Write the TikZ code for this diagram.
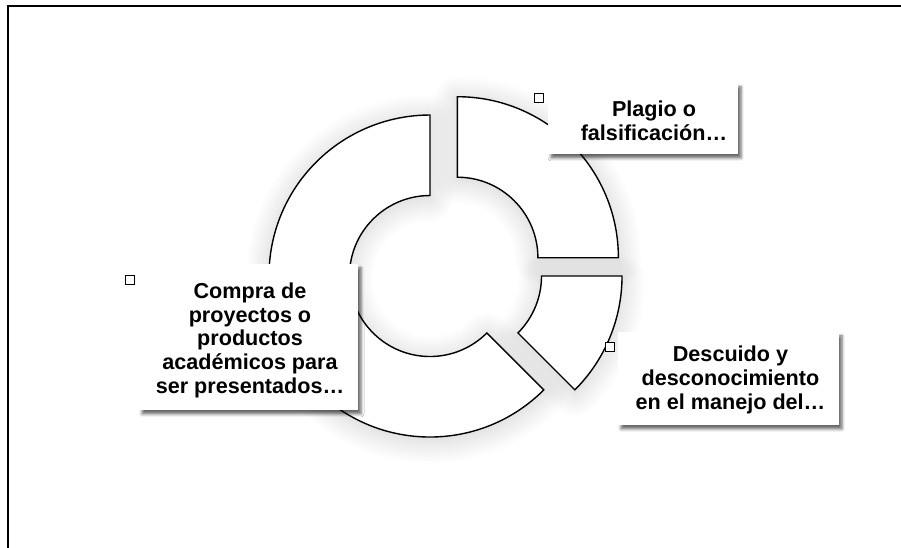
\documentclass[tikz,border=0pt]{standalone}
\usepackage{fontspec}
\setmainfont{Liberation Sans}
\usetikzlibrary{shadows.blur}

\begin{document}
\begin{tikzpicture}[x=1pt,y=1pt,
    seg/.style={draw,line width=1.4pt,fill=white},
    glow/.style={blur shadow={shadow xshift=0pt,shadow yshift=-3pt,shadow blur radius=24pt,shadow blur steps=14,shadow opacity=20}},
    box/.style={fill=white,inner sep=0pt,blur shadow={shadow xshift=3pt,shadow yshift=-4pt,shadow blur radius=3pt,shadow opacity=60}},
    txt/.style={align=center,font=\fontsize{21.6}{23.75}\selectfont\bfseries,inner sep=0pt},
    marker/.style={draw,line width=1.3pt,fill=white,minimum size=9pt,inner sep=0pt}]
  \useasboundingbox (0,0) rectangle (901,548);
  \draw[line width=1.5pt] (8,-10) |- (911,542);
  \coordinate (C) at (445.5,278.4);
  % glow first, then the three pieces pulled apart from C
  \foreach \sa/\ea/\dir in {90/0/45,0/-45/-22.5,-45/-270/-157.5}
    \path[glow,shift={(C)},shift={(\dir:16.8)}] (\sa:161) arc[start angle=\sa,end angle=\ea,radius=161]
      -- (\ea:80.5) arc[start angle=\ea,end angle=\sa,radius=80.5] -- cycle;
  \foreach \sa/\ea/\dir in {90/0/45,0/-45/-22.5,-45/-270/-157.5}
    \draw[seg,shift={(C)},shift={(\dir:16.8)}] (\sa:161) arc[start angle=\sa,end angle=\ea,radius=161]
      -- (\ea:80.5) arc[start angle=\ea,end angle=\sa,radius=80.5] -- cycle;
  % labels
  \node[box,minimum width=190pt,minimum height=71pt] (plagio) at (643,429.5) {};
  \node[txt] (plagioTxt) at ([xshift=11pt,yshift=-2pt]plagio.center) {Plagio o\\falsificación…};
  \node[box,minimum width=219pt,minimum height=146pt] (compra) at (248.5,211) {};
  \node[txt] (compraTxt) at ([xshift=1.5pt,yshift=-3.4pt]compra.center) {Compra de\\proyectos o\\productos\\académicos para\\ser presentados…};
  \node[box,minimum width=221pt,minimum height=93pt] (descuido) at (728.5,169.5) {};
  \node[txt] (descuidoTxt) at ([xshift=2pt,yshift=-1.5pt]descuido.center) {Descuido y\\desconocimiento\\en el manejo del…};
  \node[marker] (plagioMk) at (539,450.3) {};
  \node[marker] (compraMk) at (130,268) {};
  \node[marker] (descuidoMk) at (610,201) {};
\end{tikzpicture}
\end{document}
